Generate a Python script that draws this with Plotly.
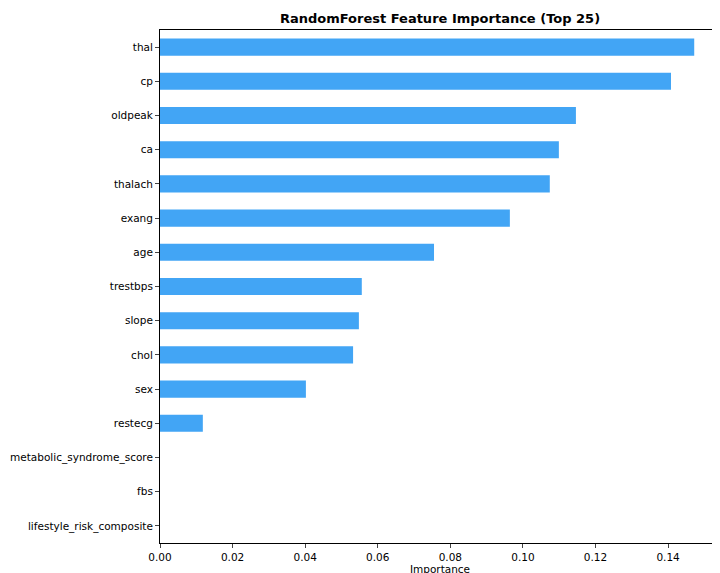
import plotly.graph_objects as go

features = ["thal", "cp", "oldpeak", "ca", "thalach", "exang", "age", "trestbps",
            "slope", "chol", "sex", "restecg", "metabolic_syndrome_score", "fbs",
            "lifestyle_risk_composite"]
importance = [0.1472, 0.1408, 0.1146, 0.1099, 0.1074, 0.0964, 0.0755, 0.0556,
              0.0548, 0.0532, 0.0402, 0.0118, 0.0, 0.0, 0.0]
xticks = [0.0, 0.02, 0.04, 0.06, 0.08, 0.10, 0.12, 0.14]

fig = go.Figure(go.Bar(x=importance, y=features, orientation="h",
                       marker=dict(color="#42a5f5", line=dict(width=0)), width=0.5))
fig.update_layout(
    width=720, height=573, plot_bgcolor="white", paper_bgcolor="white",
    margin=dict(l=152, r=8, t=22, b=38),
    font=dict(family="DejaVu Sans", size=10.5, color="black"),
    title=dict(text="<b>RandomForest Feature Importance (Top 25)</b>", x=0.6, xanchor="center",
               y=0.99, yanchor="top", font=dict(size=13)),
    showlegend=False,
)
fig.update_xaxes(range=[0, 0.1543], tickvals=xticks, ticktext=[f"{v:.2f}" for v in xticks],
                 ticks="outside", ticklen=4, showgrid=False, zeroline=False,
                 showline=True, linecolor="black", linewidth=1, mirror=True, automargin=False,
                 title=dict(text="Importance", standoff=2, font=dict(size=10.5)))
fig.update_yaxes(autorange=False, ticks="outside", ticklen=4, showgrid=False,
                 showline=True, linecolor="black", linewidth=1, mirror=True,
                 range=[14.5, -0.5], automargin=False)
fig.write_html("out.html")
